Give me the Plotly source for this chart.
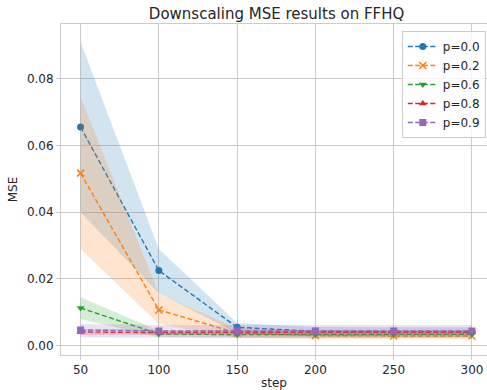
import plotly.graph_objects as go

steps = [50, 100, 150, 200, 250, 300]
labels = ["p=0.0", "p=0.2", "p=0.6", "p=0.8", "p=0.9"]
colors = ["#1f77b4", "#ff7f0e", "#2ca02c", "#d62728", "#9467bd"]
fills = ["rgba(31,119,180,0.2)", "rgba(255,127,14,0.2)", "rgba(44,160,44,0.2)",
         "rgba(214,39,40,0.2)", "rgba(148,103,189,0.2)"]
symbols = ["circle", "x-thin-open", "triangle-down", "triangle-up", "square"]

mean_p00 = [0.0655, 0.0225, 0.0055, 0.0043, 0.0042, 0.0042]
lo_p00 = [0.0400, 0.0157, 0.0038, 0.0030, 0.0030, 0.0030]
hi_p00 = [0.0910, 0.0290, 0.0068, 0.0056, 0.0055, 0.0055]

mean_p02 = [0.0517, 0.0107, 0.0038, 0.0030, 0.0029, 0.0029]
lo_p02 = [0.0290, 0.0065, 0.0024, 0.0020, 0.0020, 0.0020]
hi_p02 = [0.0745, 0.0155, 0.0052, 0.0042, 0.0040, 0.0040]

mean_p06 = [0.0113, 0.0035, 0.0033, 0.0034, 0.0034, 0.0034]
lo_p06 = [0.0080, 0.0025, 0.0024, 0.0025, 0.0025, 0.0025]
hi_p06 = [0.0145, 0.0045, 0.0043, 0.0043, 0.0043, 0.0043]

mean_p08 = [0.0041, 0.0039, 0.0040, 0.0040, 0.0040, 0.0040]
lo_p08 = [0.0032, 0.0031, 0.0032, 0.0032, 0.0032, 0.0032]
hi_p08 = [0.0050, 0.0047, 0.0048, 0.0048, 0.0048, 0.0048]

mean_p09 = [0.0047, 0.0044, 0.0044, 0.0044, 0.0044, 0.0044]
lo_p09 = [0.0025, 0.0024, 0.0024, 0.0024, 0.0024, 0.0024]
hi_p09 = [0.0065, 0.0062, 0.0062, 0.0062, 0.0062, 0.0062]

means = [mean_p00, mean_p02, mean_p06, mean_p08, mean_p09]
los = [lo_p00, lo_p02, lo_p06, lo_p08, lo_p09]
his = [hi_p00, hi_p02, hi_p06, hi_p08, hi_p09]

fig = go.Figure()
for i in range(5):
    fig.add_trace(go.Scatter(x=steps, y=los[i], mode="lines", line=dict(width=0),
                             showlegend=False, hoverinfo="skip"))
    fig.add_trace(go.Scatter(x=steps, y=his[i], mode="lines", line=dict(width=0),
                             fill="tonexty", fillcolor=fills[i],
                             showlegend=False, hoverinfo="skip"))
    mk = dict(symbol=symbols[i], size=7, color=colors[i])
    if i == 1:
        mk = dict(symbol=symbols[i], size=7, color=colors[i],
                  line=dict(width=1.5, color=colors[i]))
    fig.add_trace(go.Scatter(x=steps, y=means[i], mode="lines+markers", name=labels[i],
                             line=dict(color=colors[i], width=1.4, dash="5px,2.5px"),
                             marker=mk))

axis_common = dict(showgrid=True, gridcolor="#cccccc", gridwidth=1,
                   showline=True, linecolor="#cccccc", linewidth=1, mirror=True,
                   zeroline=False, ticks="outside", ticklen=4, tickcolor="#cccccc",
                   tickfont=dict(family="DejaVu Sans", size=12, color="#262626"))

fig.update_layout(
    width=487, height=390,
    margin=dict(l=61, r=0, t=24, b=35),
    paper_bgcolor="white", plot_bgcolor="white",
    font=dict(family="DejaVu Sans", size=12, color="#262626"),
    title=dict(text="Downscaling MSE results on FFHQ", x=0.506, xref="paper",
               xanchor="center", y=1 - 14 / 390, yref="container", yanchor="middle",
               font=dict(family="DejaVu Sans", size=15, color="#262626")),
    xaxis=dict(range=[37.5, 309.6], tickvals=steps,
               title=dict(text="step", font=dict(size=12), standoff=2), **axis_common),
    yaxis=dict(range=[-0.0028, 0.0964], tickvals=[0, 0.02, 0.04, 0.06, 0.08],
               tickformat=".2f",
               title=dict(text="MSE", font=dict(size=12), standoff=6), **axis_common),
    legend=dict(x=0.80, y=0.979, xanchor="left", yanchor="top",
                bgcolor="rgba(255,255,255,0.8)", bordercolor="#cccccc", borderwidth=1,
                font=dict(family="DejaVu Sans", size=12, color="#262626"),
                traceorder="normal", tracegroupgap=0, itemwidth=30),
)

fig.write_html("out.html", config={"displayModeBar": False},
               post_script="document.body.style.margin='0';document.body.style.overflow='hidden';")
